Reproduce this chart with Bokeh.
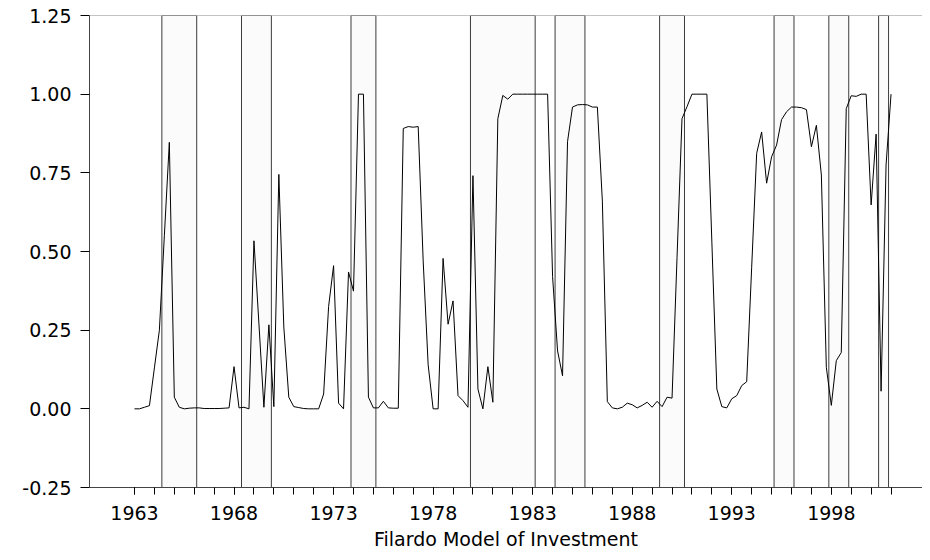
import numpy as np
from bokeh.plotting import figure
from bokeh.models import FixedTicker, BoxAnnotation, Span, PrintfTickFormatter
from bokeh.embed import file_html
from bokeh.resources import INLINE

# ---- data -------------------------------------------------------------
start_year = 1963
invest_prob = [
    0.000, 0.000, 0.005, 0.010, 0.130, 0.250, 0.550, 0.847, 0.037, 0.005,
    0.000, 0.002, 0.003, 0.003, 0.001, 0.001, 0.001, 0.001, 0.002, 0.003,
    0.134, 0.003, 0.005, 0.000, 0.534, 0.270, 0.005, 0.267, 0.007, 0.745,
    0.260, 0.037, 0.007, 0.004, 0.001, 0.000, 0.000, 0.000, 0.047, 0.325,
    0.455, 0.018, 0.000, 0.435, 0.374, 1.000, 1.000, 0.037, 0.003, 0.003,
    0.024, 0.003, 0.002, 0.002, 0.891, 0.897, 0.895, 0.897, 0.470, 0.140,
    0.000, 0.000, 0.478, 0.269, 0.343, 0.042, 0.026, 0.005, 0.741, 0.063,
    0.000, 0.134, 0.021, 0.922, 0.996, 0.984, 1.000, 1.000, 1.000, 1.000,
    1.000, 1.000, 1.000, 1.000, 0.420, 0.184, 0.105, 0.849, 0.959, 0.966,
    0.967, 0.966, 0.959, 0.959, 0.660, 0.023, 0.003, 0.000, 0.005, 0.018,
    0.013, 0.003, 0.011, 0.021, 0.005, 0.024, 0.007, 0.037, 0.034, 0.480,
    0.922, 0.960, 1.000, 1.000, 1.000, 1.000, 0.530, 0.063, 0.007, 0.003,
    0.032, 0.042, 0.074, 0.086, 0.450, 0.812, 0.880, 0.717, 0.801, 0.838,
    0.919, 0.944, 0.959, 0.959, 0.957, 0.951, 0.833, 0.901, 0.743, 0.132,
    0.011, 0.153, 0.179, 0.954, 0.995, 0.993, 1.000, 1.000, 0.648, 0.873,
    0.056, 0.775, 1.000,
]
quarters = start_year + np.arange(len(invest_prob)) / 4.0

rec_start = [1964.375, 1968.375, 1973.875, 1979.875, 1984.125,
             1989.375, 1995.125, 1997.875, 2000.375]
rec_end = [1966.125, 1969.875, 1975.125, 1983.125, 1985.625,
           1990.625, 1996.125, 1998.875, 2000.875]

year_ticks = list(range(1963, 2002))
label_years = [1963, 1968, 1973, 1978, 1983, 1988, 1993, 1998]
y_ticks = [-0.25, 0.0, 0.25, 0.50, 0.75, 1.00, 1.25]
x_label = "Filardo Model of Investment"

# ---- figure -----------------------------------------------------------
p = figure(width=922, height=552, x_range=(1960.74, 2002.58), y_range=(-0.25, 1.25),
           output_backend="svg", toolbar_location=None,
           min_border_left=89, min_border_right=0, min_border_top=15, min_border_bottom=63)
p.xgrid.visible = False
p.ygrid.visible = False
p.outline_line_color = None
p.background_fill_color = "white"

for s, e in zip(rec_start, rec_end):
    p.add_layout(BoxAnnotation(left=s, right=e, fill_color="#fbfbfb", fill_alpha=1.0,
                               line_color="#3c3c3c", line_width=1, line_alpha=1.0,
                               level="underlay"))

p.add_layout(Span(location=y_ticks[-1], dimension="width", line_color="#888888", line_width=1))

p.line(quarters, invest_prob, line_color="black", line_width=1)

font = "DejaVu Sans"
p.xaxis.ticker = FixedTicker(ticks=label_years, minor_ticks=year_ticks)
p.xaxis.major_tick_in = 0
p.xaxis.major_tick_out = 7
p.xaxis.minor_tick_in = 0
p.xaxis.minor_tick_out = 7
p.xaxis.axis_label = x_label
p.xaxis.axis_label_text_font = font
p.xaxis.axis_label_text_font_style = "normal"
p.xaxis.axis_label_text_font_size = "19px"
p.xaxis.axis_label_text_color = "black"
p.xaxis.axis_label_standoff = 5
p.xaxis.major_label_standoff = 11

p.yaxis.ticker = FixedTicker(ticks=y_ticks)
p.yaxis.formatter = PrintfTickFormatter(format="%.2f")
p.yaxis.major_tick_in = 0
p.yaxis.major_tick_out = 9
p.yaxis.major_label_standoff = 9

for ax in (p.xaxis, p.yaxis):
    ax.axis_line_color = "#444444"
    ax.major_tick_line_color = "black"
    ax.major_label_text_font = font
    ax.major_label_text_font_size = "19px"
    ax.major_label_text_color = "black"
p.xaxis.minor_tick_line_color = "black"
p.yaxis.minor_tick_line_color = None

open("out.html", "w").write(file_html(p, INLINE))
